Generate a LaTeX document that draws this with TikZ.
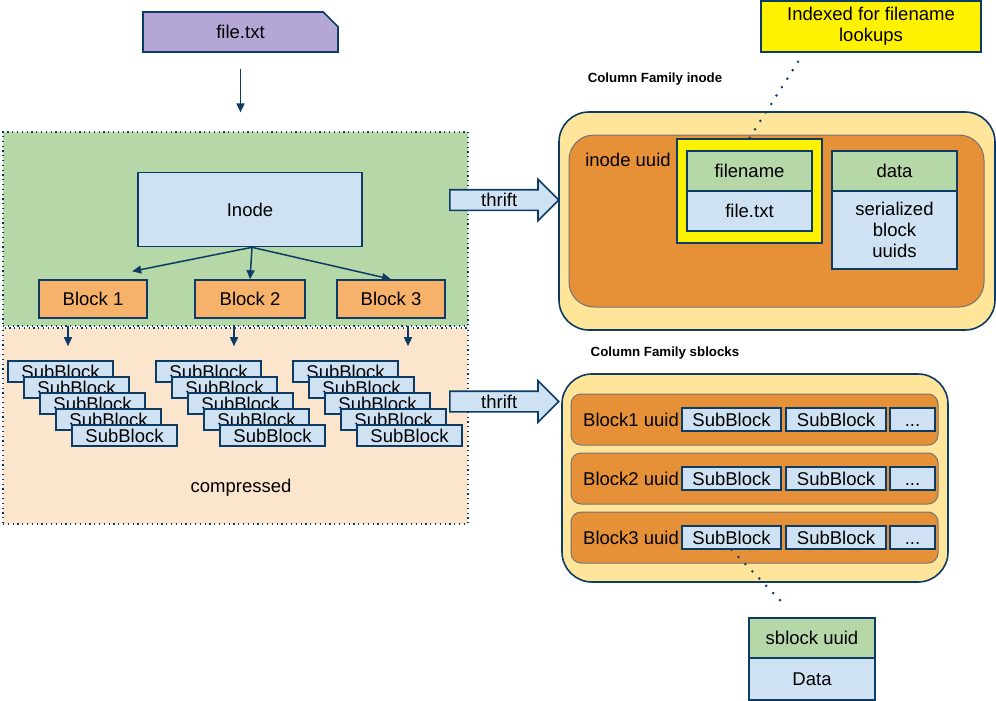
\documentclass[tikz,border=0pt]{standalone}
\usepackage{fontspec}
\setmainfont{Liberation Sans}
\usepackage{xcolor}
\usetikzlibrary{arrows.meta,calc,positioning,shapes.arrows,shapes.misc}

\definecolor{navy}{HTML}{0C3B66}
\definecolor{skyfill}{HTML}{CFE2F3}
\definecolor{leaf}{HTML}{B6D7A8}
\definecolor{apricot}{HTML}{F6B26B}
\definecolor{peach}{HTML}{FCE5CD}
\definecolor{cream}{HTML}{FFE599}
\definecolor{rust}{HTML}{E69138}
\definecolor{lilac}{HTML}{B4A7D6}

\begin{document}
\begin{tikzpicture}[x=1pt,y=-1pt,font=\fontsize{18.5}{21}\selectfont,
  >={Triangle[length=9pt,width=8pt]},
  box/.style={draw=navy,line width=1.6pt,fill=skyfill,inner sep=0pt},
  blk/.style={box,fill=apricot,minimum width=108pt,minimum height=38pt},
  subbox/.style={box,minimum width=105pt,minimum height=21pt,text height=13pt,text depth=0pt},
  zone/.style={draw=navy,line width=1.2pt,dash pattern=on 1.2pt off 3.6pt,inner sep=0pt},
  cfbox/.style={draw=navy,line width=1.6pt,fill=cream,rounded corners=30pt,inner sep=0pt},
  cfrow/.style={draw=black!55,line width=1pt,fill=rust,inner sep=0pt},
  cellbox/.style={box,minimum width=125pt,minimum height=40pt},
  headbox/.style={cellbox,fill=leaf},
  arr/.style={->,draw=navy,line width=1.5pt},
  dotline/.style={draw=navy,line width=2.8pt,line cap=round,dash pattern=on 0pt off 10pt},
  pipe/.style={single arrow,draw=navy,line width=1.6pt,fill=skyfill,
    single arrow head extend=10.5pt,minimum height=109pt,minimum width=40pt,
    text height=13pt,text depth=0pt,inner ysep=3pt,inner xsep=4pt},
  cflabel/.style={font=\fontsize{13.3}{15}\selectfont\bfseries}]
  \useasboundingbox (0,0) rectangle (996,701);

  % left side: file, inode and blocks
  \node[zone,fill=leaf,minimum width=465pt,minimum height=194pt] (meta) at (235.5,229) {};
  \node[zone,fill=peach,minimum width=465pt,minimum height=196pt] (store) at (235.5,426) {};
  \node[box,fill=lilac,chamfered rectangle,chamfered rectangle corners=north east,
    chamfered rectangle xsep=8pt,chamfered rectangle ysep=8pt,
    minimum width=195pt,minimum height=40pt] (file) at (240.5,32) {file.txt};
  \draw[arr,shorten <=16pt,shorten >=19pt] (file.south) -- (file.south |- meta.north);

  \node[box,minimum width=224pt,minimum height=74pt] (inode) at (250,209.5) {Inode};
  \node[blk] (b1) at (93,299) {Block 1};
  \node[blk,minimum width=110pt] (b2) at (250,299) {Block 2};
  \node[blk] (b3) at (391,299) {Block 3};
  \draw[arr,shorten >=40pt] ([xshift=2pt]inode.south) -- (b1.north);
  \draw[arr] ([xshift=2pt]inode.south) -- (b2.north);
  \draw[arr] ([xshift=2pt]inode.south) -- (b3.north);

  % stacks of subblocks
  \foreach \g/\gx in {1/8,2/156,3/293}
    \foreach \i in {0,...,4}
      \node[subbox] (sb\g\i) at ({\gx+52.5+16*\i},{371.5+16*\i}) {SubBlock};
  \draw[arr,shorten <=7pt,shorten >=14pt] ([xshift=-25pt]b1.south) -- ([xshift=-25pt]b1.south |- sb10.north);
  \draw[arr,shorten <=7pt,shorten >=14pt] ([xshift=-16pt]b2.south) -- ([xshift=-16pt]b2.south |- sb20.north);
  \draw[arr,shorten <=7pt,shorten >=14pt] ([xshift=17pt]b3.south) -- ([xshift=17pt]b3.south |- sb30.north);
  \node (zip) at (241,488) {compressed};

  \node[pipe,anchor=tail] (t1) at (449,200) {thrift};
  \node[pipe,anchor=tail] (t2) at (449,401.5) {thrift};

  % column family inode
  \node[cflabel] (cflabA) at (655,79) {Column Family inode};
  \node[cfbox,minimum width=436pt,minimum height=218pt] (cfA) at (777,221) {};
  \node[cfrow,rounded corners=25pt,minimum width=415pt,minimum height=172pt] (rowA) at (776.5,221) {};
  \node (uuidA) at (628,160) {inode uuid};
  \node[box,fill=yellow,minimum width=145pt,minimum height=104pt] (hl) at (749.5,191) {};
  \node[headbox] (fname) at (749.5,171) {filename};
  \node[cellbox] (fval) at (749.5,211) {file.txt};
  \node[headbox] (dname) at (894.5,171) {data};
  \node[cellbox,minimum height=78pt,align=center] (dval) at (894.5,230) {serialized\\block\\uuids};
  \node[box,fill=yellow,minimum width=220pt,minimum height=51pt,align=center] (idx) at (871,26.5) {Indexed for filename\\lookups};
  \draw[dotline] ([xshift=-73pt,yshift=-9pt]idx.south) -- ([xshift=-2pt,yshift=-3pt]hl.north);

  % column family sblocks
  \node[cflabel] (cflabB) at (665,353) {Column Family sblocks};
  \node[cfbox,minimum width=386pt,minimum height=208pt] (cfB) at (755,478) {};
  \foreach \r/\ry in {1/419.5,2/478.5,3/537.5} {
    \node[cfrow,rounded corners=10pt,minimum width=367pt,minimum height=51pt] (row\r) at (754.5,\ry) {};
    \node (key\r) at (631,\ry) {Block\r\ uuid};
    \node[subbox,minimum width=99pt,minimum height=23pt] (c\r1) at (731.5,\ry) {SubBlock};
    \node[subbox,minimum width=100pt,minimum height=23pt] (c\r2) at (836,\ry) {SubBlock};
    \node[subbox,minimum width=45pt,minimum height=23pt] (c\r3) at (912.5,\ry) {...};
  }
  \node[headbox,minimum width=126pt] (sbk) at (812,638) {sblock uuid};
  \node[cellbox,minimum width=126pt,minimum height=42pt] (sbv) at (812,679) {Data};
  \draw[dotline] (c31.south) -- ([xshift=-30pt,yshift=15pt]sbk.north);
\end{tikzpicture}
\end{document}
